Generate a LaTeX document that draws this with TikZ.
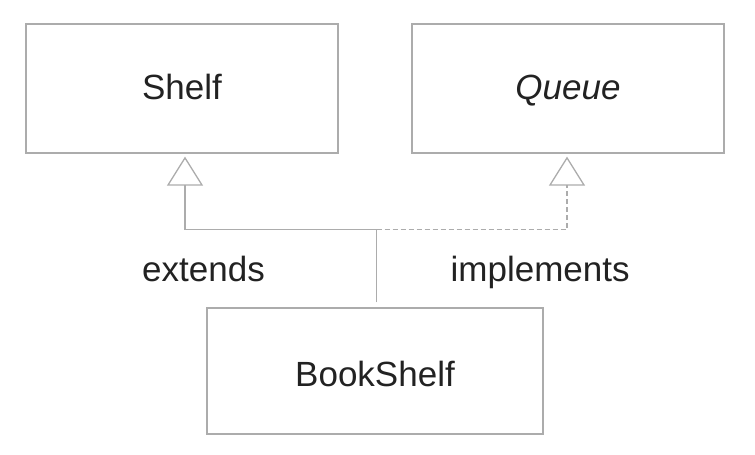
\documentclass[tikz,border=0pt]{standalone}
\usepackage{fontspec}
\setmainfont{Liberation Sans}
\usetikzlibrary{arrows.meta}
\definecolor{linegray}{RGB}{172,172,172}
\definecolor{txt}{RGB}{34,34,34}
\begin{document}
\begin{tikzpicture}[x=1pt,y=-1pt,
  box/.style={draw=linegray,line width=1.3pt,rectangle,inner sep=0pt,
    text=txt,font=\fontsize{35}{40}\selectfont},
  lbl/.style={inner sep=0pt,text=txt,font=\fontsize{35}{40}\selectfont,anchor=base west},
  conn/.style={draw=linegray,line width=1.3pt},
  gen/.style={-{Triangle[open,length=29pt,width=36pt,line width=1.3pt]}}
]
\useasboundingbox (0,0) rectangle (755,455);
\node[box,minimum width=312pt,minimum height=129pt,text height=25.5pt,text depth=4pt] (shelf) at (182,88.5) {Shelf};
\node[box,minimum width=312pt,minimum height=129pt,text height=25.5pt,text depth=4pt] (queue) at (568,88.5) {\itshape Queue};
\node[box,minimum width=336pt,minimum height=126pt,text height=31.5pt,text depth=0pt] (book) at (375,371) {BookShelf};
\coordinate (j) at (376.5,229.5);
\draw[conn,gen,shorten <=5pt,shorten >=3pt] (book.north -| j) -- (j) -| ([xshift=3pt]shelf.south);
\draw[conn,gen,dash pattern=on 5pt off 3pt,shorten >=3pt] (j) -| ([xshift=-1pt]queue.south);
\node[lbl] (ext) at (142,281.5) {extends};
\node[lbl] (impl) at (450.5,281.5) {implements};
\end{tikzpicture}
\end{document}
